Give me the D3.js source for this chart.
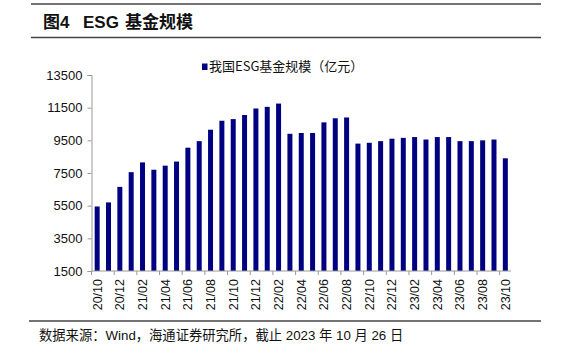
<!DOCTYPE html>
<html><head><meta charset="utf-8">
<script src="https://cdn.jsdelivr.net/npm/d3@7"></script>
<style>body{margin:0;background:#fff}svg{display:block}</style>
</head><body><svg id="c" width="570" height="359"></svg>
<script>
const categories = ["20/10","20/11","20/12","21/01","21/02","21/03","21/04","21/05","21/06","21/07","21/08","21/09","21/10","21/11","21/12","22/01","22/02","22/03","22/04","22/05","22/06","22/07","22/08","22/09","22/10","22/11","22/12","23/01","23/02","23/03","23/04","23/05","23/06","23/07","23/08","23/09","23/10"];
const values = [5450,5700,6650,7550,8150,7700,7950,8200,9050,9450,10150,10700,10800,11050,11450,11550,11750,9900,9950,9950,10600,10850,10900,9300,9350,9450,9600,9650,9700,9550,9700,9700,9450,9450,9500,9550,8400];
const yTicks = [1500,3500,5500,7500,9500,11500,13500];
const xLabels = categories.filter((d,i)=>i%2===0);
const seriesName = "我国ESG基金规模（亿元）";
const titleParts = ["图4", "ESG", "基金规模"];
const source = "数据来源：Wind，海通证券研究所，截止 2023 年 10 月 26 日";

const svg = d3.select("#c");
const cjk = "'Liberation Sans', Arial, 'Noto Sans CJK SC', sans-serif";
// header lines
svg.append("line").attr("x1",31).attr("x2",541).attr("y1",4).attr("y2",4).attr("stroke","#444").attr("stroke-width",1.5);
svg.append("line").attr("x1",31).attr("x2",541).attr("y1",37.5).attr("y2",37.5).attr("stroke","#444").attr("stroke-width",1.5);
svg.append("line").attr("x1",29).attr("x2",541).attr("y1",321).attr("y2",321).attr("stroke","#444").attr("stroke-width",1.5);
const tt = svg.append("text").attr("y",28).attr("font-family",cjk).attr("font-weight","bold").attr("font-size",17).attr("fill","#111");
tt.selectAll("tspan").data(titleParts).join("tspan").attr("x",(d,i)=>[43,83,125][i]).text(d=>d);
svg.append("text").attr("x",39).attr("y",340).attr("font-family",cjk).attr("font-size",13.3).attr("fill","#111").text(source);

const x = d3.scaleBand().domain(categories).range([91.5,511]).paddingInner(0.56).paddingOuter(0.28);
const y = d3.scaleLinear().domain([1500,13500]).range([271,75]);

const gy = svg.append("g").attr("transform","translate(91.5,0)")
  .call(d3.axisLeft(y).tickValues(yTicks).tickSize(4).tickFormat(d3.format("d")));
gy.select(".domain").attr("stroke","#999");
gy.selectAll(".tick line").attr("stroke","#999");
gy.selectAll("text").attr("font-family","'Liberation Sans', Arial, sans-serif").attr("font-size",13).attr("fill","#111").attr("dx",-2);

svg.append("g").selectAll("rect").data(values).join("rect")
  .attr("x",(d,i)=>x(categories[i])).attr("width",x.bandwidth())
  .attr("y",d=>y(d)).attr("height",d=>y(1500)-y(d)).attr("fill","#000080");

// x axis
const gx = svg.append("g").attr("transform","translate(0,271)");
gx.append("line").attr("x1",91.5).attr("x2",511).attr("stroke","#999");
const tickPos = d3.range(0, categories.length+1, 2).map(i=>91.5+ i*(511-91.5)/categories.length);
gx.selectAll(".tk").data(tickPos).join("line").attr("class","tk").attr("x1",d=>d).attr("x2",d=>d).attr("y1",0).attr("y2",4).attr("stroke","#999");
gx.selectAll(".lb").data(xLabels).join("text").attr("class","lb")
  .attr("transform",d=>`translate(${x(d)+x.bandwidth()/2+4.5},${8}) rotate(-90)`)
  .attr("text-anchor","end").attr("font-family","'Liberation Sans', Arial, sans-serif").attr("font-size",12.5).attr("fill","#111").text(d=>d);

// legend
svg.append("rect").attr("x",202).attr("y",63.5).attr("width",5.5).attr("height",6.5).attr("fill","#000080");
svg.append("text").attr("x",209).attr("y",71).attr("font-family","'Noto Sans CJK SC', sans-serif").attr("font-size",13).attr("fill","#111").text(seriesName);
</script></body></html>
